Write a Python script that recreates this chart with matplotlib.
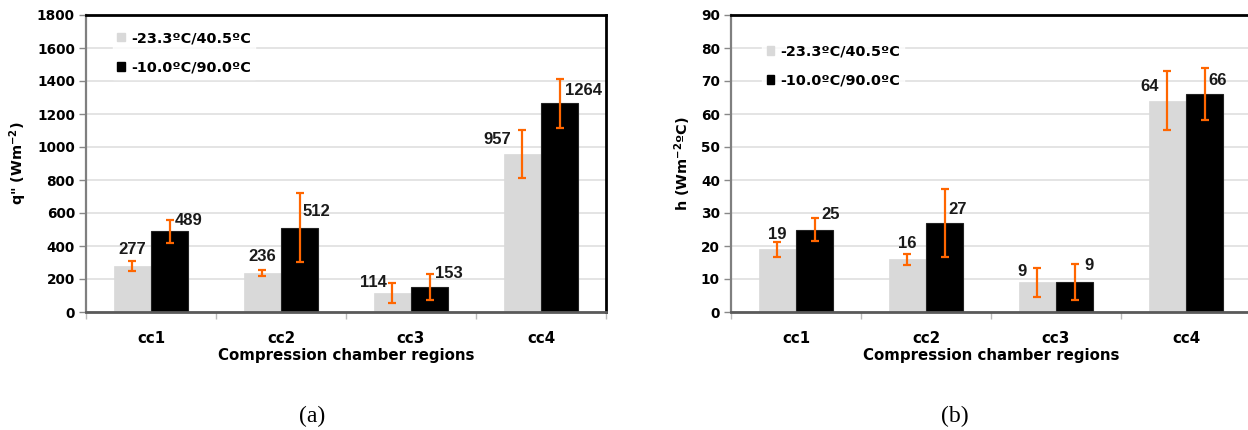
import numpy as np
import matplotlib
matplotlib.use('Agg')
from matplotlib import pyplot as plt
from matplotlib.patches import Patch

# Regions and the two operating conditions
regions = ['cc1', 'cc2', 'cc3', 'cc4']
series_names = ['-23.3ºC/40.5ºC', '-10.0ºC/90.0ºC']

# (a) heat flux q'' (W m^-2)
q_low = [277, 236, 114, 957]
q_high = [489, 512, 153, 1264]
q_low_err = [31, 20, 60, 147]
q_high_err = [70, 207, 80, 146]

# (b) heat transfer coefficient h (W m^-2 ºC^-1)
h_low = [19, 16, 9, 64]
h_high = [25, 27, 9, 66]
h_low_err = [2.3, 1.7, 4.4, 9.0]
h_high_err = [3.6, 10.2, 5.5, 7.9]

plt.rcParams['font.family'] = ['DejaVu Sans']
plt.rcParams['font.weight'] = 'bold'
plt.rcParams['axes.labelweight'] = 'bold'

GREY = '#d9d9d9'
ORANGE = '#ff6600'

# label placement: (x offset in points from bar centre, y in data units, alignment)
lab_a_low = [(0, 378, 'center'), (0, 338, 'center'), (-4, 180, 'right'), (-8, 1046, 'right')]
lab_a_high = [(4, 554, 'left'), (2, 611, 'left'), (4, 233, 'left'), (4, 1343, 'left')]
lab_b_low = [(0, 23.5, 'center'), (0, 20.8, 'center'), (-8, 12.2, 'right'), (-6, 68.2, 'right')]
lab_b_high = [(5, 29.4, 'left'), (3, 31.2, 'left'), (7, 14.2, 'left'), (3, 70.1, 'left')]


def draw_panel(ax, low, high, low_err, high_err, ymax, ystep, ylabel,
               lab_low, lab_high, legend_anchor):
    x = np.arange(len(regions))
    w = 0.286
    ax.set_axisbelow(True)
    ax.bar(x - w / 2, low, w, color=GREY, edgecolor=GREY, linewidth=0.5, zorder=2)
    ax.bar(x + w / 2, high, w, color='black', edgecolor='#222222', linewidth=0.8, zorder=2)
    ax.errorbar(x - w / 2, low, yerr=low_err, fmt='none', ecolor=ORANGE,
                elinewidth=1.6, capsize=2.8, capthick=1.6, zorder=3)
    ax.errorbar(x + w / 2, high, yerr=high_err, fmt='none', ecolor=ORANGE,
                elinewidth=1.6, capsize=2.8, capthick=1.6, zorder=3)

    # value labels in a narrower face
    for i in range(len(regions)):
        dx, yy, ha = lab_low[i]
        ax.annotate(str(low[i]), (x[i] - w / 2, yy), xytext=(dx, 0),
                    textcoords='offset points', ha=ha, va='center',
                    family='Liberation Sans', fontsize=12, color='#1a1a1a', zorder=4)
        dx, yy, ha = lab_high[i]
        ax.annotate(str(high[i]), (x[i] + w / 2, yy), xytext=(dx, 0),
                    textcoords='offset points', ha=ha, va='center',
                    family='Liberation Sans', fontsize=12, color='#1a1a1a', zorder=4)

    ax.set_xlim(-0.5, len(regions) - 0.5)
    ax.set_ylim(0, ymax)
    ax.set_yticks(np.arange(0, ymax + 1, ystep))
    ax.yaxis.grid(True, color='#e2e2e2', linewidth=1.3)
    ax.tick_params(axis='y', labelsize=9.8, length=5, width=1, color='#888888', pad=3)

    ax.set_xticks(x)
    ax.set_xticklabels(regions, fontsize=10.8)
    ax.tick_params(axis='x', which='major', length=0, pad=14)
    ax.set_xticks(np.arange(-0.5, len(regions)), minor=True)
    ax.tick_params(axis='x', which='minor', length=5, width=1, color='#bbbbbb')
    ax.set_xlabel('Compression chamber regions', fontsize=10.8, labelpad=1)
    ax.set_ylabel(ylabel, fontsize=10.4, labelpad=6)

    ax.spines['left'].set_color('#7f7f7f')
    ax.spines['left'].set_linewidth(1.6)
    ax.spines['bottom'].set_color('#5a5a5a')
    ax.spines['bottom'].set_linewidth(2)
    for s in ('top', 'right'):
        ax.spines[s].set_color('black')
        ax.spines[s].set_linewidth(2)

    handles = [Patch(facecolor=GREY, edgecolor=GREY), Patch(facecolor='black', edgecolor='black')]
    leg = ax.legend(handles, series_names, loc='upper left', bbox_to_anchor=legend_anchor,
                    fontsize=10.4, handlelength=0.55, handleheight=0.55, handletextpad=0.4,
                    labelspacing=1.05, frameon=True, fancybox=False, borderpad=0.3,
                    borderaxespad=0)
    leg.get_frame().set_facecolor('white')
    leg.get_frame().set_edgecolor('white')
    leg.set_zorder(5)


fig = plt.figure(figsize=(12.48, 4.30), dpi=100)
W, H = 1248.0, 430.0
ax_a = fig.add_axes([86 / W, 1 - 312 / H, 520 / W, 297 / H])
ax_b = fig.add_axes([731 / W, 1 - 312 / H, 520 / W, 297 / H])

draw_panel(ax_a, q_low, q_high, q_low_err, q_high_err, 1800, 200,
           'q" (Wm$^{\\mathbf{-2}}$)', lab_a_low, lab_a_high, (0.052, 0.96))
draw_panel(ax_b, h_low, h_high, h_low_err, h_high_err, 90, 10,
           'h (Wm$^{\\mathbf{-2}}$ºC)', lab_b_low, lab_b_high, (0.06, 0.915))

fig.text(312 / W, 1 - 416 / H, '(a)', family='Liberation Serif', weight='normal',
         fontsize=17, ha='center', va='center')
fig.text(955 / W, 1 - 416 / H, '(b)', family='Liberation Serif', weight='normal',
         fontsize=17, ha='center', va='center')

fig.savefig('out.png', dpi=100)
